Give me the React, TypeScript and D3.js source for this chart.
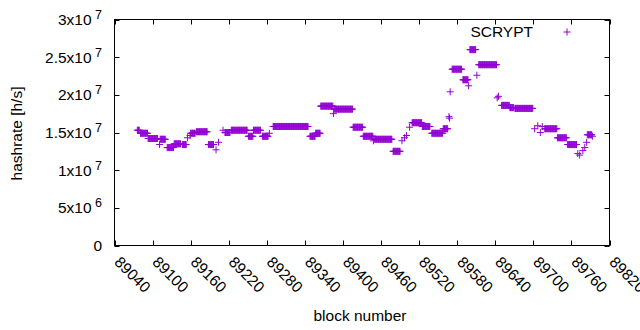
import * as d3 from 'd3';

// runs of blocks that share one hashrate value (x1e7 h/s)
const runStart = [
  89076, 89081, 89093, 89111, 89112, 89123, 89134, 89147, 89155, 89159,
  89160, 89169, 89188, 89200, 89204, 89211, 89214, 89224, 89251, 89259,
  89273, 89284, 89290, 89348, 89357, 89365, 89385, 89386, 89416, 89432,
  89448, 89450, 89479, 89493, 89497, 89500, 89505, 89509, 89525, 89540,
  89558, 89567, 89568, 89569, 89572, 89589, 89598, 89600, 89611, 89614,
  89643, 89645, 89650, 89663, 89671, 89702, 89707, 89711, 89714, 89718,
  89738, 89754, 89770, 89773, 89778, 89781, 89784, 89785, 89793,
];
const runEnd = [
  89079, 89092, 89108, 89111, 89120, 89133, 89144, 89153, 89155, 89159,
  89167, 89186, 89196, 89200, 89204, 89211, 89222, 89249, 89258, 89270,
  89282, 89284, 89345, 89356, 89364, 89384, 89385, 89415, 89431, 89447,
  89448, 89477, 89490, 89493, 89497, 89500, 89505, 89524, 89537, 89557,
  89565, 89567, 89568, 89569, 89587, 89597, 89598, 89609, 89611, 89642,
  89643, 89645, 89662, 89669, 89699, 89702, 89707, 89711, 89714, 89737,
  89752, 89768, 89770, 89773, 89778, 89781, 89784, 89792, 89793,
];
const runValue = [
  1.53, 1.49, 1.42, 1.34, 1.41, 1.30, 1.35, 1.34, 1.43, 1.46,
  1.49, 1.51, 1.34, 1.27, 1.37, 1.53, 1.50, 1.53, 1.45, 1.53,
  1.45, 1.49, 1.58, 1.45, 1.49, 1.85, 1.75, 1.81, 1.57, 1.45,
  1.39, 1.41, 1.25, 1.39, 1.43, 1.46, 1.57, 1.63, 1.58, 1.49,
  1.55, 1.71, 1.69, 2.04, 2.34, 2.20, 2.12, 2.60, 2.26, 2.40,
  1.96, 1.98, 1.86, 1.83, 1.82, 1.55, 1.59, 1.50, 1.58, 1.55,
  1.43, 1.34, 1.22, 1.20, 1.26, 1.30, 1.37, 1.47, 1.45,
];

const xTicks = [89040, 89100, 89160, 89220, 89280, 89340, 89400, 89460, 89520, 89580, 89640, 89700, 89760, 89820];
const yTicks = [0, 5e6, 1e7, 1.5e7, 2e7, 2.5e7, 3e7];
const yTickBase = ['0', '5x10', '1x10', '1.5x10', '2x10', '2.5x10', '3x10'];
const yTickExp = ['', '6', '7', '7', '7', '7', '7'];

const color = '#9400d3';
const font = 'Liberation Sans, Arial, sans-serif';

export default function App() {
  const left = 114.5, right = 609.5, top = 19.5, bottom = 245.5;
  const x = d3.scaleLinear().domain([89040, 89820]).range([left, right]);
  const y = d3.scaleLinear().domain([0, 3e7]).range([bottom, top]);

  const points: { block: number; value: number }[] = [];
  runStart.forEach((s, i) => {
    for (let b = s; b <= runEnd[i]; b++) points.push({ block: b, value: runValue[i] * 1e7 });
  });

  const h = 3.5;
  const plus = (px: number, py: number) => `M${px - h},${py}h${2 * h}M${px},${py - h}v${2 * h}`;
  const pointPath = points.map(p => plus(x(p.block), y(p.value))).join('');

  const tick = 5;

  return (
    <svg width={640} height={330} style={{ position: 'absolute', left: 0, top: 0, background: '#fff' }}
      fontFamily={font} fontSize={15.5} fill="#000">
      {/* ticks, mirrored on all sides */}
      <g stroke="#000" strokeWidth={1}>
        {xTicks.map(t => (
          <g key={'x' + t}>
            <line x1={Math.round(x(t)) + 0.5} x2={Math.round(x(t)) + 0.5} y1={bottom} y2={bottom - tick} />
            <line x1={Math.round(x(t)) + 0.5} x2={Math.round(x(t)) + 0.5} y1={top} y2={top + tick} />
          </g>
        ))}
        {yTicks.map(t => (
          <g key={'y' + t}>
            <line x1={left} x2={left + tick} y1={Math.round(y(t)) + 0.5} y2={Math.round(y(t)) + 0.5} />
            <line x1={right} x2={right - tick} y1={Math.round(y(t)) + 0.5} y2={Math.round(y(t)) + 0.5} />
          </g>
        ))}
      </g>

      <path d={pointPath} stroke={color} strokeWidth={1} fill="none" />

      <rect x={left} y={top} width={right - left} height={bottom - top} fill="none" stroke="#000" strokeWidth={1} />

      {yTicks.map((t, i) => (
        <text key={'yl' + t} x={102} y={y(t) + 5.5} textAnchor="end">
          {yTickBase[i]}
          {yTickExp[i] && <tspan dy={-6} fontSize={12.5}>{' ' + yTickExp[i]}</tspan>}
        </text>
      ))}

      {xTicks.map(t => (
        <text key={'xl' + t} transform={`translate(${x(t) - 1},263) rotate(45)`}>{t}</text>
      ))}

      <text transform="translate(22,133.5) rotate(-90)" textAnchor="middle">hashrate [h/s]</text>
      <text x={360} y={321} textAnchor="middle">block number</text>

      <text x={533} y={37} textAnchor="end">SCRYPT</text>
      <path d={plus(567, 32)} stroke={color} strokeWidth={1} fill="none" />
    </svg>
  );
}
